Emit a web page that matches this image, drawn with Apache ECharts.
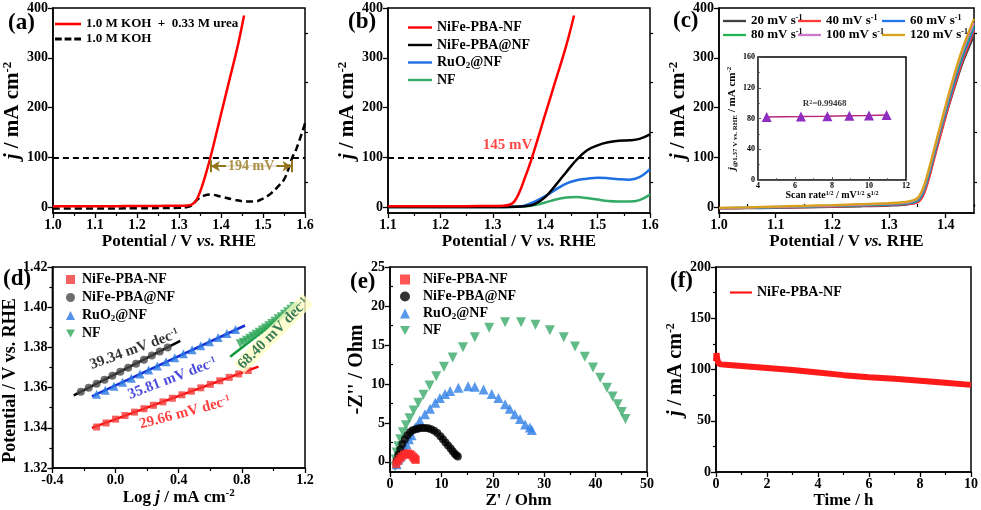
<!DOCTYPE html>
<html>
<head>
<meta charset="utf-8">
<script src="https://cdn.jsdelivr.net/npm/echarts@6/dist/echarts.min.js"></script>
<style>
  html, body { margin: 0; padding: 0; background: #fff; }
  #chart { width: 981px; height: 510px; }
</style>
</head>
<body>
<div id="chart"></div>
<script>
// ---- data ----
// (a) LSV in two electrolytes
const aUreaX = [1.00, 1.05, 1.10, 1.15, 1.20, 1.25, 1.30, 1.32, 1.33, 1.34, 1.35, 1.36, 1.375, 1.40, 1.42, 1.44, 1.455]
const aUreaJ = [1.5, 1.6, 1.7, 1.8, 2.0, 2.2, 2.6, 3.2, 5, 12, 30, 55, 100, 186, 255, 324, 385]
const aKohX = [1.00, 1.10, 1.20, 1.30, 1.32, 1.33, 1.34, 1.35, 1.36, 1.375, 1.40, 1.43, 1.46, 1.48, 1.50, 1.52, 1.54, 1.55, 1.56, 1.57, 1.58, 1.60]
const aKohJ = [-3, -3, -2.5, -1.5, 0, 3, 12, 19, 23, 25, 21, 15, 11, 11, 17, 28, 45, 55, 75, 100, 118, 168]
const aGapX = [1.376, 1.568]   // ends of the 194 mV arrow
const aGapJ = 82

// (b) LSV of the four electrodes
const bRedX = [1.10, 1.15, 1.20, 1.25, 1.30, 1.32, 1.33, 1.34, 1.35, 1.36, 1.375, 1.40, 1.42, 1.44, 1.455]
const bRedJ = [1.5, 1.6, 1.7, 1.8, 2.2, 2.8, 4, 10, 28, 55, 100, 186, 255, 324, 385]
const bX = [1.10, 1.20, 1.30, 1.34, 1.36, 1.38, 1.40, 1.42, 1.44, 1.46, 1.48, 1.50, 1.52, 1.54, 1.56, 1.58, 1.60]
const bAtNF = [0, 0, 0, 0.5, 1.5, 6, 20, 44, 70, 95, 114, 124, 130, 133, 134, 137, 146]
const bRuO2 = [0, 0, 0, 0.5, 2.5, 11, 22, 35, 47, 54, 57, 59, 58, 56, 55, 60, 76]
const bNF = [0, 0, 0, 0.3, 1, 4, 9, 15, 19, 20, 18, 15, 12, 11, 11, 14, 25]

// (c) LSV at different scan rates + inset
const cX = [1.00, 1.05, 1.10, 1.15, 1.20, 1.25, 1.30, 1.33, 1.35, 1.36, 1.37, 1.38, 1.39, 1.40, 1.41, 1.42, 1.43, 1.44, 1.45]
const c20 = [-3, -2.5, -1.5, -0.5, 0.5, 1.5, 3, 5, 10, 25, 58, 100, 142, 182, 220, 256, 290, 318, 345]
const c40 = [-2.5, -2, -1, 0, 1, 2.5, 4, 6, 9, 22, 55, 98, 140, 182, 222, 260, 295, 325, 355]
const c60 = [-2.5, -1.5, -0.5, 0.5, 2, 3.5, 5, 7, 12, 28, 63, 106, 150, 190, 230, 268, 302, 332, 360]
const c80 = [-2, -1, 0, 1, 2.5, 4, 6, 8, 14, 32, 67, 110, 154, 195, 236, 274, 308, 338, 365]
const c100 = [-2, -1, 0.5, 1.5, 3, 5, 7, 9, 16, 35, 71, 114, 158, 200, 241, 280, 314, 344, 370]
const c120 = [-1.5, -0.5, 1, 2.5, 4, 6, 8, 10.5, 18, 38, 75, 118, 162, 205, 246, 285, 320, 350, 378]
const cRates = ['20 mV s-1', '40 mV s-1', '60 mV s-1', '80 mV s-1', '100 mV s-1', '120 mV s-1']
const cSqrtRate = [4.47, 6.32, 7.75, 8.94, 10.0, 10.95]
const cJ137 = [82, 82.5, 83, 83.5, 84, 84.5]

// (d) Tafel plots
const dPbaX = [-0.12, -0.06, 0.0, 0.06, 0.12, 0.18, 0.24, 0.30, 0.36, 0.42, 0.48, 0.54, 0.60, 0.66, 0.72, 0.78, 0.84]
const dPbaY = [1.3404, 1.3424, 1.3443, 1.3461, 1.3478, 1.3495, 1.3512, 1.3529, 1.3547, 1.3564, 1.3582, 1.3599, 1.3616, 1.3634, 1.3651, 1.3668, 1.3685]
const dAtX = [-0.22, -0.17, -0.12, -0.07, -0.02, 0.03, 0.08, 0.13, 0.18, 0.23, 0.28, 0.33]
const dAtY = [1.3579, 1.3599, 1.3619, 1.3639, 1.3659, 1.3679, 1.3699, 1.3719, 1.3739, 1.3760, 1.3780, 1.3800]
const dRuX = [-0.12, -0.065, -0.01, 0.045, 0.10, 0.155, 0.21, 0.265, 0.32, 0.375, 0.43, 0.485, 0.54, 0.595, 0.65, 0.705, 0.76]
const dRuY = [1.3567, 1.3587, 1.3607, 1.3627, 1.3647, 1.3668, 1.3688, 1.3708, 1.3728, 1.3748, 1.3768, 1.3788, 1.3808, 1.3828, 1.3849, 1.3869, 1.3889]
const dNfX = [0.79, 0.81, 0.83, 0.85, 0.87, 0.89, 0.91, 0.93, 0.95, 0.97, 0.99, 1.01, 1.03, 1.05, 1.07, 1.09, 1.11, 1.13]
const dNfY = [1.3818, 1.3826, 1.3835, 1.3845, 1.3855, 1.3865, 1.3875, 1.3886, 1.3897, 1.3908, 1.3919, 1.3930, 1.3942, 1.3953, 1.3965, 1.3977, 1.3990, 1.4003]
// fitted lines: [x0, y0, x1, y1]
const dFitPba = [-0.15, 1.3400, 0.905, 1.3704]
const dFitAt = [-0.265, 1.3561, 0.41, 1.3832]
const dFitRu = [-0.15, 1.3556, 0.82, 1.3909]
const dFitNf = [0.726, 1.3753, 1.155, 1.4016]

// (e) Nyquist plots
const ePbaX = [1.2, 1.5, 1.9, 2.3, 2.7, 3.1, 3.5, 3.9, 4.2, 4.5, 4.7, 4.9, 5.0]
const ePbaY = [-0.3, 0.1, 0.4, 0.7, 0.9, 1.05, 1.1, 1.0, 0.85, 0.65, 0.5, 0.35, 0.25]
const eAtX = [1.3, 1.6, 2.0, 2.4, 2.9, 3.4, 3.9, 4.4, 5.0, 5.6, 6.2, 6.8, 7.4, 8.0, 8.6, 9.2, 9.8, 10.3, 10.8, 11.3, 11.8, 12.2, 12.6, 12.9, 13.2]
const eAtY = [0.2, 0.9, 1.6, 2.3, 2.9, 3.4, 3.8, 4.05, 4.2, 4.3, 4.35, 4.35, 4.3, 4.2, 4.0, 3.7, 3.3, 2.9, 2.5, 2.1, 1.7, 1.35, 1.05, 0.85, 0.7]
const eRuX = [1.3, 1.6, 2.0, 2.3, 2.8, 3.2, 3.7, 4.2, 4.9, 5.8, 6.8, 7.8, 8.8, 9.7, 10.7, 11.7, 13.3, 15.2, 16.5, 18.2, 19.8, 21.1, 22.4, 23.3, 24.3, 25.3, 26.3, 27.2, 27.6]
const eRuY = [-0.3, 0.3, 0.7, 1.0, 1.7, 2.3, 2.9, 3.4, 4.4, 5.3, 6.1, 6.8, 7.6, 8.2, 8.7, 9.1, 9.5, 9.7, 9.65, 9.3, 8.7, 8.2, 7.4, 6.8, 6.1, 5.5, 4.8, 4.4, 4.1]
const eNfX = [1.0, 1.1, 1.3, 1.6, 2.0, 2.5, 3.1, 3.8, 4.6, 5.5, 6.5, 7.7, 9.0, 10.5, 12.2, 14.2, 16.5, 19.3, 22.4, 25.5, 28.3, 31.1, 33.8, 36.0, 37.9, 39.5, 40.9, 42.2, 43.3, 44.3, 45.1, 45.8]
const eNfY = [-0.6, 0.3, 1.2, 2.0, 2.9, 3.8, 4.7, 5.6, 6.6, 7.6, 8.6, 9.8, 11.0, 12.2, 13.4, 14.7, 16.0, 17.2, 17.9, 17.9, 17.6, 16.9, 16.0, 14.8, 13.5, 12.1, 10.8, 9.5, 8.4, 7.4, 6.4, 5.5]

// (f) chronoamperometry
const fT = [0, 0.02, 0.05, 0.1, 0.2, 0.5, 1, 2, 3, 4, 5, 6, 7, 8, 9, 10]
const fJ = [108, 116, 110, 106, 105, 104.5, 103.5, 101.5, 99.5, 97, 94.5, 92.5, 91, 89, 87, 85]

// ---- helpers ----
const FONT = 'Liberation Serif'
const ZW = '\u200b'
const zip = (xs, ys) => xs.map((x, i) => [x, ys[i]])

function rich(size) {
  return {
    i: {fontStyle: 'italic', fontSize: size, lineHeight: size + 2},
    sup: {fontSize: Math.round(size * 0.62), lineHeight: Math.round(size * 0.62), verticalAlign: 'top'},
    sub: {fontSize: Math.round(size * 0.62), lineHeight: Math.round(size * 0.62), verticalAlign: 'bottom'}
  }
}
const nameStyle = size => ({fontFamily: FONT, fontWeight: 'bold', fontSize: size, color: '#000', rich: rich(size)})
const tickLabel = {fontFamily: FONT, fontWeight: 'bold', fontSize: 14, color: '#000', margin: 5}

function axis(gi, o) {
  const a = {
    type: 'value', gridIndex: gi, nameLocation: 'middle', nameTextStyle: nameStyle(17),
    axisLine: {onZero: false, lineStyle: {color: '#000', width: 1.5}},
    axisTick: {inside: false, length: 5, lineStyle: {color: '#000', width: 1.3}},
    minorTick: {show: true, splitNumber: 2, length: 3, lineStyle: {color: '#000', width: 1.2}},
    axisLabel: Object.assign({}, tickLabel),
    splitLine: {show: false}
  }
  for (const k in o) {
    if (typeof o[k] === 'object' && !Array.isArray(o[k]) && a[k]) a[k] = Object.assign({}, a[k], o[k])
    else a[k] = o[k]
  }
  return a
}
// extra axis that only draws short minor ticks
function minorAx(gi, min, max, vals) {
  return {
    type: 'value', gridIndex: gi, min, max,
    axisLine: {show: false}, axisLabel: {show: false}, splitLine: {show: false},
    axisTick: {show: true, customValues: vals, length: 3, lineStyle: {color: '#000', width: 1.2}}
  }
}
function note(gi, x, y, text, color, size, rotate, extra) {
  return {
    type: 'scatter', xAxisIndex: gi, yAxisIndex: gi, symbolSize: 0, silent: true, z: 6,
    data: [[x, y]],
    label: Object.assign({
      show: true, position: 'inside', formatter: text, color, fontSize: size,
      fontWeight: 'bold', fontFamily: FONT, rotate, rich: rich(size)
    }, extra || {})
  }
}
function fitLine(gi, f, color) {
  return {
    type: 'line', xAxisIndex: gi, yAxisIndex: gi, symbol: 'none', silent: true, z: 2,
    data: [[f[0], f[1]], [f[2], f[3]]], lineStyle: {color, width: 2.5}
  }
}
function legendFmt(name) {
  return name.replace(/\u200b/g, '').replace('RuO2', 'RuO{sub|2}').replace(/s-1$/, 's{sup|-1}')
}
function legend(o, names, size, pad) {
  return Object.assign({
    orient: 'vertical', padding: 0, selectedMode: false, data: names, formatter: legendFmt,
    textStyle: {fontFamily: FONT, fontWeight: 'bold', fontSize: size, color: '#000', lineHeight: size + 1,
      padding: [0, 0, 0, pad || 0], rich: rich(size)}
  }, o)
}
const f1 = v => v.toFixed(1)
const f2 = v => v.toFixed(2)

// legend icons drawn as filled paths (a bar for a line, bars for a dashed line)
const LINE_ICON = 'path://M0,0H30V3H0Z'
const DASH_ICON = 'path://M0,0H7V3H0Z M10,0H17V3H10Z M20,0H27V3H20Z'
const DOWN_TRI = 'path://M0,0L10,0L5,9Z'

const N = {
  urea: '1.0 M KOH  +  0.33 M urea', koh: '1.0 M KOH',
  b: ['NiFe-PBA-NF', 'NiFe-PBA@NF', 'RuO2@NF', 'NF'],
}
N.d = N.b.map(n => n + ZW)
N.e = N.b.map(n => n + ZW + ZW)
N.f = N.b[0] + ZW + ZW + ZW

const cColors = ['#404040', '#ff3b3b', '#2277ee', '#22b352', '#cc77cc', '#d9a21a']
const bColors = ['#ff0000', '#000000', '#1f6fe0', '#33aa66']
const jName = '{i|j} / mA cm{sup|-2}'
const potName = 'Potential / V {i|vs.} RHE'

const grids = [
  {left: 52, top: 8, width: 253, height: 205},     // a
  {left: 388, top: 8, width: 262, height: 205},    // b
  {left: 719, top: 8, width: 255, height: 205},    // c
  {left: 758, top: 57, width: 148, height: 123},   // c inset
  {left: 52, top: 267, width: 253, height: 201},   // d
  {left: 390, top: 267, width: 257, height: 206},  // e
  {left: 716, top: 267, width: 255, height: 205}   // f
].map(g => Object.assign({show: true, borderColor: '#000', borderWidth: 1.5, backgroundColor: 'transparent'}, g))

const yJ = [0, 100, 200, 300, 400]
const xAxes = [
  axis(0, {min: 1.0, max: 1.6, interval: 0.1, name: potName, nameGap: 19, axisLabel: {formatter: f1}}),
  axis(1, {min: 1.1, max: 1.6, interval: 0.1, name: potName, nameGap: 19, axisLabel: {formatter: f1}}),
  axis(2, {min: 1.0, max: 1.45, name: potName, nameGap: 19, minorTick: {show: false},
    axisLabel: {formatter: f1, customValues: [1.0, 1.1, 1.2, 1.3, 1.4]}, axisTick: {customValues: [1.0, 1.1, 1.2, 1.3, 1.4]}}),
  axis(3, {min: 4, max: 12, interval: 2, name: 'Scan rate{sup|1/2} / mV{sup|1/2} s{sup|1/2}', nameGap: 9,
    nameTextStyle: nameStyle(10), axisLine: {lineStyle: {width: 1}},
    axisTick: {length: 3, inside: true, lineStyle: {width: 1}}, minorTick: {length: 2, inside: true, lineStyle: {width: 0.8}},
    axisLabel: {fontSize: 8, margin: 2}}),
  axis(4, {min: -0.4, max: 1.2, interval: 0.4, name: 'Log {i|j} / mA cm{sup|-2}', nameGap: 20, axisLabel: {formatter: f1}}),
  axis(5, {min: 0, max: 50, interval: 10, name: "Z' / Ohm", nameGap: 20}),
  axis(6, {min: 0, max: 10, interval: 2, name: 'Time / h', nameGap: 20}),
  minorAx(2, 1.0, 1.45, [1.05, 1.15, 1.25, 1.35, 1.45])
]
const yAxes = [
  axis(0, {min: -12, max: 400, name: jName, nameGap: 27, nameTextStyle: nameStyle(21), minorTick: {show: false},
    axisLabel: {customValues: yJ}, axisTick: {customValues: yJ}}),
  axis(1, {min: -12, max: 400, name: jName, nameGap: 20, nameTextStyle: nameStyle(21), minorTick: {show: false},
    axisLabel: {customValues: yJ}, axisTick: {customValues: yJ}}),
  axis(2, {min: -12, max: 400, name: jName, nameGap: 27, nameTextStyle: nameStyle(21), minorTick: {show: false},
    axisLabel: {customValues: yJ}, axisTick: {customValues: yJ}}),
  axis(3, {min: 0, max: 160, interval: 40, name: '{i|j}{sub|@1.37 V vs. RHE} / mA cm{sup|-2}', nameGap: 14,
    nameTextStyle: nameStyle(11), axisLine: {lineStyle: {width: 1}},
    axisTick: {length: 3, inside: true, lineStyle: {width: 1}}, minorTick: {length: 2, inside: true, lineStyle: {width: 0.8}},
    axisLabel: {fontSize: 8, margin: 3}}),
  axis(4, {min: 1.32, max: 1.42, interval: 0.02, name: 'Potential / V vs. RHE', nameGap: 29,
    nameTextStyle: Object.assign(nameStyle(18), {padding: [0, 26, 0, 0]}), axisLabel: {formatter: f2}}),
  axis(5, {min: -1.3, max: 25, name: "-Z'' / Ohm", nameGap: 18, nameTextStyle: nameStyle(20), minorTick: {show: false},
    axisLabel: {customValues: [0, 5, 10, 15, 20, 25]}, axisTick: {customValues: [0, 5, 10, 15, 20, 25]}}),
  axis(6, {min: 0, max: 200, interval: 50, name: jName, nameGap: 23, nameTextStyle: nameStyle(20)}),
  minorAx(0, -12, 400, [50, 150, 250, 350]),
  minorAx(1, -12, 400, [50, 150, 250, 350]),
  minorAx(2, -12, 400, [50, 150, 250, 350]),
  minorAx(5, -1.3, 25, [2.5, 7.5, 12.5, 17.5, 22.5])
]

const gold = '#94761c'
const series = []
// (a)
series.push({name: N.urea, type: 'line', xAxisIndex: 0, yAxisIndex: 0, symbol: 'none', smooth: 0.3, z: 4,
  data: zip(aUreaX, aUreaJ), lineStyle: {color: '#ff0000', width: 2.5}, itemStyle: {color: '#ff0000'}})
series.push({name: N.koh, type: 'line', xAxisIndex: 0, yAxisIndex: 0, symbol: 'none', smooth: 0.4, z: 3,
  data: zip(aKohX, aKohJ), lineStyle: {color: '#000', width: 2.5, type: [7, 4]}, itemStyle: {color: '#000'},
  markLine: {silent: true, symbol: ['none', 'none'], label: {show: false},
    lineStyle: {color: '#000', width: 1.8, type: [6, 4]}, data: [{yAxis: 100}]}})
series.push({type: 'line', xAxisIndex: 0, yAxisIndex: 0, symbol: 'none', silent: true, data: [[aGapX[0], aGapJ]],
  markLine: {silent: true, symbol: ['none', 'none'], label: {show: false}, animation: false,
    lineStyle: {color: gold, width: 2, type: 'solid'},
    data: [
      [{coord: [aGapX[0], aGapJ], symbol: 'arrow', symbolSize: [8, 9]}, {coord: [aGapX[1], aGapJ], symbol: 'arrow', symbolSize: [8, 9]}],
      [{coord: [aGapX[0], aGapJ - 12]}, {coord: [aGapX[0], aGapJ + 12]}],
      [{coord: [aGapX[1], aGapJ - 12]}, {coord: [aGapX[1], aGapJ + 12]}]
    ]}})
series.push(note(0, 1.472, aGapJ, '194 mV', gold, 14, 0, {backgroundColor: '#fff', padding: [0, 2]}))

// (b)
const bData = [zip(bRedX, bRedJ), zip(bX, bAtNF), zip(bX, bRuO2), zip(bX, bNF)]
N.b.forEach((n, k) => series.push({name: n, type: 'line', xAxisIndex: 1, yAxisIndex: 1, symbol: 'none', smooth: 0.4,
  z: 6 - k, data: bData[k], lineStyle: {color: bColors[k], width: 2.5}, itemStyle: {color: bColors[k]},
  markLine: k === 3 ? {silent: true, symbol: ['none', 'none'], label: {show: false},
    lineStyle: {color: '#000', width: 1.8, type: [6, 4]}, data: [{yAxis: 100}]} : undefined}))
series.push(note(1, 1.328, 124, '145 mV', '#ff1a1a', 15, 0))

// (c)
const cData = [c20, c40, c60, c80, c100, c120]
cRates.forEach((n, k) => series.push({name: n, type: 'line', xAxisIndex: 2, yAxisIndex: 2, symbol: 'none', smooth: 0.3,
  data: zip(cX, cData[k]), lineStyle: {color: cColors[k], width: 2.2}, itemStyle: {color: cColors[k]}}))
series.push({type: 'line', xAxisIndex: 3, yAxisIndex: 3, symbol: 'triangle', symbolSize: 10, z: 5,
  data: zip(cSqrtRate, cJ137), lineStyle: {color: '#b8287a', width: 1.5}, itemStyle: {color: '#8e2fc2'}})
series.push(note(3, 7.6, 99, 'R{sup|2}=0.99468', '#000', 9, 0))

// (d)
const dSets = [
  {x: dPbaX, y: dPbaY, sym: 'rect', size: 7, color: '#f23a3a'},
  {x: dAtX, y: dAtY, sym: 'circle', size: 8, color: '#4a4a4a'},
  {x: dRuX, y: dRuY, sym: 'triangle', size: 9, color: '#2a78e4'},
  {x: dNfX, y: dNfY, sym: 'triangle', size: 9, color: '#2fa85a', rot: 180}
]
dSets.forEach((s, k) => series.push({name: N.d[k], type: 'scatter', xAxisIndex: 4, yAxisIndex: 4,
  symbol: s.sym, symbolSize: s.size, symbolRotate: s.rot || 0, z: 3, data: zip(s.x, s.y), itemStyle: {color: s.color}}))
series.push(fitLine(4, dFitPba, '#ff0000'), fitLine(4, dFitAt, '#000000'), fitLine(4, dFitRu, '#1630d8'), fitLine(4, dFitNf, '#119a3c'))
series.push(note(4, 0.12, 1.3790, '39.34 mV dec{sup|-1}', '#000', 15, 20))
series.push(note(4, 0.36, 1.3645, '35.81 mV dec{sup|-1}', '#1a1ad0', 15, 21))
series.push(note(4, 0.44, 1.3475, '29.66 mV dec{sup|-1}', '#ff1010', 15, 15))
series.push(note(4, 1.0, 1.3868, '68.40 mV dec{sup|-1}', '#0a5a3a', 15, 45, {backgroundColor: '#ffffc8', padding: [0, 2]}))

// (e)
const eSets = [
  {x: eNfX, y: eNfY, sym: 'triangle', size: 10, color: '#3aaa6a', rot: 180, k: 3},
  {x: eRuX, y: eRuY, sym: 'triangle', size: 10, color: '#2f80e6', k: 2},
  {x: eAtX, y: eAtY, sym: 'circle', size: 8, color: '#000000', k: 1},
  {x: ePbaX, y: ePbaY, sym: 'rect', size: 8, color: '#ff2a2a', k: 0}
]
eSets.forEach(s => series.push({name: N.e[s.k], type: 'scatter', xAxisIndex: 5, yAxisIndex: 5,
  symbol: s.sym, symbolSize: s.size, symbolRotate: s.rot || 0, data: zip(s.x, s.y), itemStyle: {color: s.color}}))

// (f)
series.push({name: N.f, type: 'line', xAxisIndex: 6, yAxisIndex: 6, symbol: 'none', data: zip(fT, fJ),
  lineStyle: {color: '#ff1a1a', width: 6}, itemStyle: {color: '#ff1a1a'}})

const symItems = (names, icons) => names.map((n, k) => ({name: n, icon: icons[k]}))
const legends = [
  legend({left: 55, top: 17, itemWidth: 26, itemHeight: 3, itemGap: 1},
    [{name: N.urea, icon: LINE_ICON}, {name: N.koh, icon: DASH_ICON}], 13),
  legend({left: 408, top: 20, itemWidth: 24, itemHeight: 3, itemGap: 2.5, icon: LINE_ICON}, N.b, 14),
  legend({left: 723, top: 14, itemWidth: 23, itemHeight: 3, itemGap: 0, icon: LINE_ICON}, [cRates[0], cRates[3]], 13),
  legend({left: 798, top: 14, itemWidth: 23, itemHeight: 3, itemGap: 0, icon: LINE_ICON}, [cRates[1], cRates[4]], 13),
  legend({left: 882, top: 14, itemWidth: 23, itemHeight: 3, itemGap: 0, icon: LINE_ICON}, [cRates[2], cRates[5]], 13),
  legend({left: 66, top: 272, itemWidth: 9, itemHeight: 9, itemGap: 3},
    symItems(N.d, ['rect', 'circle', 'triangle', DOWN_TRI]), 14, 2),
  legend({left: 400, top: 272, itemWidth: 10, itemHeight: 10, itemGap: 2},
    symItems(N.e, ['rect', 'circle', 'triangle', DOWN_TRI]), 14, 8),
  legend({left: 730, top: 285, itemWidth: 22, itemHeight: 6, itemGap: 2, icon: LINE_ICON}, [N.f], 14)
]

const panelLabel = (t, left, top) => ({type: 'text', left, top, z: 10,
  style: {text: t, font: 'bold 23px "Liberation Serif"', fill: '#000'}})

const chart = echarts.init(document.getElementById('chart'))
chart.setOption({
  backgroundColor: '#fff',
  animation: false,
  grid: grids,
  xAxis: xAxes,
  yAxis: yAxes,
  legend: legends,
  series: series,
  graphic: [
    panelLabel('(a)', 8, 12), panelLabel('(b)', 348, 11), panelLabel('(c)', 673, 10),
    panelLabel('(d)', 3, 268), panelLabel('(e)', 350, 271), panelLabel('(f)', 670, 270)
  ]
})
</script>
</body>
</html>
